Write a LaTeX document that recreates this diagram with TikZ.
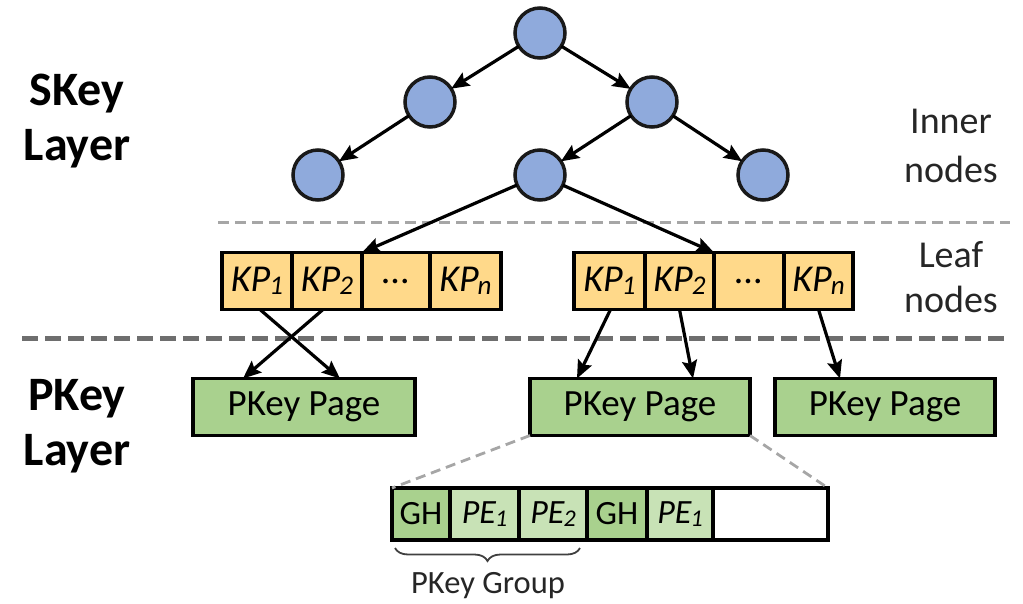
\documentclass[tikz,border=0pt]{standalone}
\usepackage{fontspec}
\setmainfont{Carlito}
\usetikzlibrary{arrows.meta,decorations.pathreplacing}
\definecolor{cblue}{HTML}{8FAADC}
\definecolor{cyel}{HTML}{FFD98A}
\definecolor{cgreen}{HTML}{A9D18E}
\definecolor{clgreen}{HTML}{C8E2B6}
\definecolor{dgray}{HTML}{6E6E6E}
\definecolor{lgray}{HTML}{A6A6A6}
\tikzset{
  circ/.style={circle,draw=black!90,line width=3.5pt,fill=cblue,minimum size=50pt,inner sep=0pt,outer sep=0pt},
  arr/.style={line width=3.2pt,-{Stealth[length=18pt,width=15pt,inset=3pt]}},
  kpcell/.style={draw=black,line width=3.6pt,fill=cyel,minimum width=70pt,minimum height=57pt,inner sep=0pt,outer sep=0pt,font=\fontsize{38}{40}\selectfont\itshape},
  page/.style={draw=black,line width=3.8pt,fill=cgreen,minimum height=57pt,inner sep=0pt,outer sep=0pt,font=\fontsize{37}{40}\selectfont},
  gcell/.style={draw=black,line width=3.6pt,minimum height=52pt,inner sep=0pt,outer sep=0pt,font=\fontsize{34}{36}\selectfont},
  sidelab/.style={anchor=base,font=\fontsize{38}{40}\selectfont,text=black!85},
  layerlab/.style={anchor=base,font=\fontsize{48}{50}\selectfont\bfseries}
}
\newcommand{\kp}[1]{KP\kern-1pt\raisebox{-2.5pt}{\fontsize{27}{28}\selectfont#1}}
\newcommand{\pe}[1]{PE\kern-1pt\raisebox{-2.5pt}{\fontsize{24}{26}\selectfont#1}}
\begin{document}
\begin{tikzpicture}[x=1pt,y=-1pt]
\useasboundingbox (0,0) rectangle (1023,603);
% layer separators
\draw[lgray,line width=3pt,dash pattern=on 11pt off 6pt] (218,222) -- (1010,222);
\draw[dgray,line width=5pt,dash pattern=on 16pt off 7pt] (22,338) -- (1010,338);
% inner nodes
\node[circ] (c1) at (540,33) {};
\node[circ] (c2) at (430,102) {};
\node[circ] (c3) at (652,102) {};
\node[circ] (c4) at (318,175) {};
\node[circ] (c5) at (540,175) {};
\node[circ] (c6) at (763,175) {};
\draw[arr] (c1) -- (c2);
\draw[arr] (c1) -- (c3);
\draw[arr] (c2) -- (c4);
\draw[arr] (c3) -- (c5);
\draw[arr] (c3) -- (c6);
% leaf nodes
\node[kpcell,minimum width=70pt] (la1) at (257,281) {\kp{1}};
\node[kpcell,minimum width=70pt] (la2) at (327,281) {\kp{2}};
\node[kpcell,minimum width=68pt] (la3) at (396,281) {...};
\node[kpcell,minimum width=71pt] (la4) at (465.5,281) {\kp{n}};
\node[kpcell,minimum width=71pt] (lb1) at (609.5,281) {\kp{1}};
\node[kpcell,minimum width=69pt] (lb2) at (679.5,281) {\kp{2}};
\node[kpcell,minimum width=70pt] (lb3) at (749,281) {...};
\node[kpcell,minimum width=69pt] (lb4) at (818.5,281) {\kp{n}};
\draw[arr] (c5) -- (la2.north east);
\draw[arr] (c5) -- (lb2.north east);
% pages
\node[page,minimum width=222pt] (p1) at (304,407) {PKey Page};
\node[page,minimum width=220pt] (p2) at (640,407) {PKey Page};
\node[page,minimum width=220pt] (p3) at (885,407) {PKey Page};
\draw[arr] ([xshift=3pt]la1.south) -- ([xshift=36pt]p1.north);
\draw[arr] ([xshift=-4pt]la2.south) -- ([xshift=-61pt]p1.north);
\draw[arr] ([xshift=1pt]lb1.south) -- ([xshift=-63pt]p2.north);
\draw[arr] ([xshift=0pt]lb2.south) -- ([xshift=53pt]p2.north);
\draw[arr] ([xshift=0pt]lb4.south) -- ([xshift=-45pt]p3.north);
% group row
\node[gcell,fill=cgreen,minimum width=58pt] (g1) at (421,514) {GH};
\node[gcell,fill=clgreen,minimum width=69pt,font=\fontsize{34}{36}\selectfont\itshape] (g2) at (484.5,514) {\pe{1}};
\node[gcell,fill=clgreen,minimum width=68pt,font=\fontsize{34}{36}\selectfont\itshape] (g3) at (553,514) {\pe{2}};
\node[gcell,fill=cgreen,minimum width=60pt] (g4) at (617,514) {GH};
\node[gcell,fill=clgreen,minimum width=66pt,font=\fontsize{34}{36}\selectfont\itshape] (g5) at (680,514) {\pe{1}};
\node[gcell,fill=white,minimum width=115pt] (g6) at (770.5,514) {};
\draw[lgray,line width=2.8pt,dash pattern=on 10pt off 6pt] (p2.south west) -- (g1.north west);
\draw[lgray,line width=2.8pt,dash pattern=on 10pt off 6pt] (p2.south east) -- (g6.north east);
\draw[line width=1.8pt,black!75,decorate,decoration={brace,mirror,amplitude=13pt}] ([xshift=3pt,yshift=-8pt]g1.south west) -- ([xshift=-7pt,yshift=-8pt]g3.south east);
\node[anchor=base,font=\fontsize{32.5}{34}\selectfont,text=black!85] (grp) at (488,593) {PKey Group};
% side labels
\node[layerlab] (sk1) at (77,105) {SKey};
\node[layerlab] (sk2) at (77,160) {Layer};
\node[layerlab] (pk1) at (77,410) {PKey};
\node[layerlab] (pk2) at (77,465) {Layer};
\node[sidelab] (in1) at (951,133) {Inner};
\node[sidelab] (in2) at (951,182) {nodes};
\node[sidelab] (lf1) at (951,267) {Leaf};
\node[sidelab] (lf2) at (951,312) {nodes};
\end{tikzpicture}
\end{document}
